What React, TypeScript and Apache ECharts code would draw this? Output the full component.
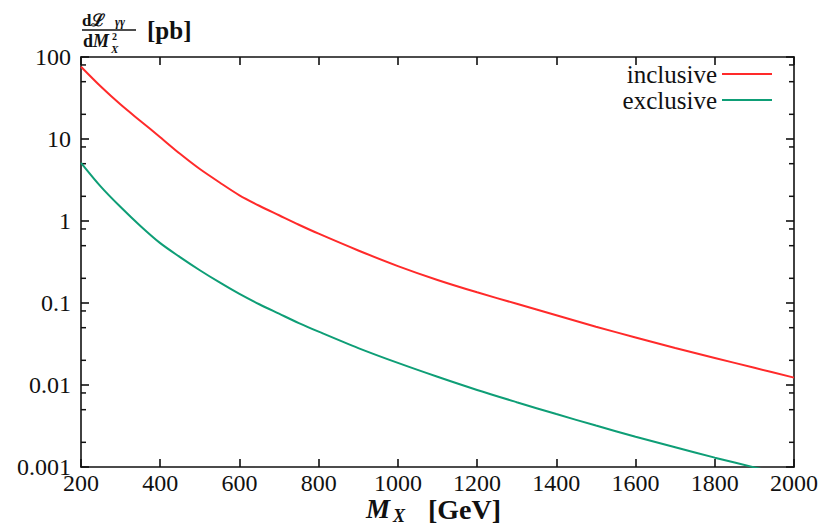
import { useEffect, useRef } from "react";
import * as echarts from "echarts";

// Photon-photon luminosity dL/dM^2 in pb versus the mass M_X (GeV)
const masses = [200, 250, 300, 350, 400, 450, 500, 550, 600, 650, 700, 750, 800, 900, 1000, 1100, 1200, 1300, 1400, 1500, 1600, 1700, 1800, 1900, 2000];
const inclusive = [76, 43.6, 26.3, 16.6, 10.5, 6.6, 4.3, 2.95, 2.06, 1.535, 1.175, 0.9, 0.7, 0.437, 0.282, 0.191, 0.135, 0.0977, 0.0708, 0.0513, 0.038, 0.0282, 0.0214, 0.0162, 0.0123];
const exclusive = [5.13, 2.63, 1.48, 0.87, 0.537, 0.363, 0.251, 0.178, 0.129, 0.0966, 0.0741, 0.0569, 0.0447, 0.0282, 0.0186, 0.0126, 0.0087, 0.00617, 0.00442, 0.0032, 0.00234, 0.00174, 0.0013, 0.00099, 0.00076];
const yTickLabels = ["0.001", "0.01", "0.1", "1", "10", "100"];
const minorTickValues = [0.002, 0.005, 0.008, 0.02, 0.05, 0.08, 0.2, 0.5, 0.8, 2, 5, 8, 20, 50, 80];

const SERIF = "'Liberation Serif', 'DejaVu Serif', serif";
const INK = "#111111";
const RED = "#ff2a2a";
const GREEN = "#0e9e76";

export default function App() {
  const ref = useRef<HTMLDivElement>(null);

  useEffect(() => {
    document.body.style.margin = "0";
    const chart = echarts.init(ref.current!, null, { renderer: "svg" });

    const axisLine = { show: true, lineStyle: { color: INK, width: 1.6 } };
    const majorTick = { show: true, inside: true, length: 8, lineStyle: { color: INK, width: 1.6 } };

    const yFormatter = (v: number) => yTickLabels[Math.round(Math.log10(v)) + 3] ?? "";
    const xFormatter = (v: number) => String(Math.round(v));

    chart.setOption({
      animation: false,
      backgroundColor: "#ffffff",
      grid: { left: 81, right: 25, top: 57, bottom: 58, containLabel: false },
      xAxis: [
        {
          type: "value",
          min: 200,
          max: 2000,
          interval: 200,
          position: "bottom",
          axisLine,
          axisTick: majorTick,
          splitLine: { show: false },
          axisLabel: { color: INK, fontFamily: SERIF, fontSize: 24, margin: 4, formatter: xFormatter },
        },
        {
          type: "value",
          min: 200,
          max: 2000,
          interval: 200,
          position: "top",
          axisLine,
          axisTick: majorTick,
          splitLine: { show: false },
          axisLabel: { show: false },
        },
      ],
      yAxis: [
        {
          type: "log",
          logBase: 10,
          min: 0.001,
          max: 100,
          position: "left",
          axisLine,
          axisTick: majorTick,
          splitLine: { show: false },
          axisLabel: { color: INK, fontFamily: SERIF, fontSize: 24, margin: 10, formatter: yFormatter },
        },
        {
          type: "log",
          logBase: 10,
          min: 0.001,
          max: 100,
          position: "right",
          axisLine,
          axisTick: majorTick,
          splitLine: { show: false },
          axisLabel: { show: false },
        },
      ],
      legend: {
        data: ["inclusive", "exclusive"],
        orient: "vertical",
        align: "right",
        right: 44,
        top: 56,
        itemWidth: 50,
        itemHeight: 2,
        itemGap: 0,
        icon: "rect",
        textStyle: { color: INK, fontFamily: SERIF, fontSize: 25, lineHeight: 26 },
      },
      series: [
        {
          name: "inclusive",
          type: "line",
          data: masses.map((m, i) => [m, inclusive[i]]),
          showSymbol: false,
          smooth: 0.3,
          color: RED,
          lineStyle: { color: RED, width: 2 },
        },
        {
          name: "exclusive",
          type: "line",
          data: masses.map((m, i) => [m, exclusive[i]]),
          showSymbol: false,
          smooth: 0.3,
          color: GREEN,
          lineStyle: { color: GREEN, width: 2 },
        },
        {
          // minor ticks at 2, 5 and 8 of every decade on both vertical frame sides
          name: "minorTicks",
          type: "custom",
          silent: true,
          data: minorTickValues.map((v) => [200, v]),
          renderItem: (params: any, api: any) => {
            const pt = api.coord([api.value(0), api.value(1)]);
            const cs = params.coordSys;
            const left = cs.x;
            const right = cs.x + cs.width;
            const st = { stroke: INK, lineWidth: 1.5 };
            return {
              type: "group",
              children: [
                { type: "line", shape: { x1: left, y1: pt[1], x2: left + 5, y2: pt[1] }, style: st },
                { type: "line", shape: { x1: right - 5, y1: pt[1], x2: right, y2: pt[1] }, style: st },
              ],
            };
          },
        },
      ],
      graphic: [
        // y-axis title: dL_γγ / dM_X^2 [pb]
        { type: "text", x: 82, y: 20, style: { text: "dℒ", fontFamily: SERIF, fontSize: 17, fontWeight: "bold", fill: INK, verticalAlign: "middle" } },
        { type: "text", x: 115, y: 22, style: { text: "γγ", fontFamily: SERIF, fontSize: 12, fontWeight: "bold", fontStyle: "italic", fill: INK, verticalAlign: "middle" } },
        { type: "line", shape: { x1: 82, y1: 30, x2: 136, y2: 30 }, style: { stroke: INK, lineWidth: 1.3 } },
        { type: "text", x: 83, y: 41, style: { text: "d", fontFamily: SERIF, fontSize: 18, fontWeight: "bold", fill: INK, verticalAlign: "middle" } },
        { type: "text", x: 93, y: 41, style: { text: "M", fontFamily: SERIF, fontSize: 18, fontWeight: "bold", fontStyle: "italic", fill: INK, verticalAlign: "middle" } },
        { type: "text", x: 112, y: 36, style: { text: "2", fontFamily: SERIF, fontSize: 10, fontWeight: "bold", fill: INK, verticalAlign: "middle" } },
        { type: "text", x: 111, y: 49, style: { text: "X", fontFamily: SERIF, fontSize: 11, fontWeight: "bold", fontStyle: "italic", fill: INK, verticalAlign: "middle" } },
        { type: "text", x: 147, y: 30, style: { text: "[pb]", fontFamily: SERIF, fontSize: 25, fontWeight: "bold", fill: INK, verticalAlign: "middle" } },
        // x-axis title: M_X [GeV]
        { type: "text", x: 366, y: 509, style: { text: "M", fontFamily: SERIF, fontSize: 27, fontWeight: "bold", fontStyle: "italic", fill: INK, verticalAlign: "middle" } },
        { type: "text", x: 393, y: 516, style: { text: "X", fontFamily: SERIF, fontSize: 18, fontWeight: "bold", fontStyle: "italic", fill: INK, verticalAlign: "middle" } },
        { type: "text", x: 428, y: 509, style: { text: "[GeV]", fontFamily: SERIF, fontSize: 28, fontWeight: "bold", fill: INK, verticalAlign: "middle" } },
      ],
    });

    return () => chart.dispose();
  }, []);

  return <div ref={ref} style={{ width: 821, height: 525 }} />;
}
